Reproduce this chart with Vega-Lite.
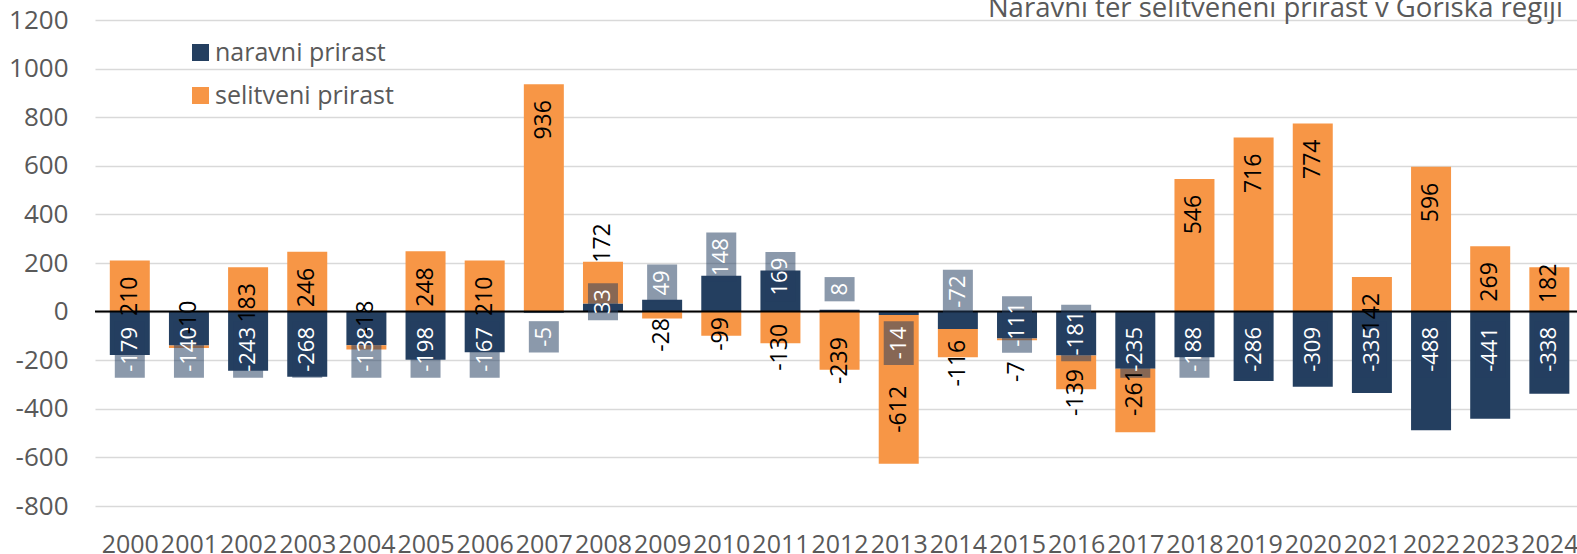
{
  "$schema": "https://vega.github.io/schema/vega-lite/v6.json",
  "width": 1482,
  "height": 486,
  "autosize": {"type": "none"},
  "padding": {"left": 95, "top": 20, "right": 0, "bottom": 48},
  "background": "white",
  "config": {"view": {"stroke": null}, "font": "Open Sans"},
  "title": {
    "text": "Naravni ter selitveneni prirast v Goriška regiji",
    "anchor": "end",
    "frame": "group",
    "orient": "top",
    "fontSize": 27.5,
    "fontWeight": "normal",
    "color": "#595959",
    "font": "Open Sans",
    "offset": -15.5,
    "dx": -14
  },
  "data": {
    "values": [
      {"year": 2000, "series": "naravni prirast", "value": -179},
      {"year": 2001, "series": "naravni prirast", "value": -140},
      {"year": 2002, "series": "naravni prirast", "value": -243},
      {"year": 2003, "series": "naravni prirast", "value": -268},
      {"year": 2004, "series": "naravni prirast", "value": -138},
      {"year": 2005, "series": "naravni prirast", "value": -198},
      {"year": 2006, "series": "naravni prirast", "value": -167},
      {"year": 2007, "series": "naravni prirast", "value": -5},
      {"year": 2008, "series": "naravni prirast", "value": 33},
      {"year": 2009, "series": "naravni prirast", "value": 49},
      {"year": 2010, "series": "naravni prirast", "value": 148},
      {"year": 2011, "series": "naravni prirast", "value": 169},
      {"year": 2012, "series": "naravni prirast", "value": 8},
      {"year": 2013, "series": "naravni prirast", "value": -14},
      {"year": 2014, "series": "naravni prirast", "value": -72},
      {"year": 2015, "series": "naravni prirast", "value": -111},
      {"year": 2016, "series": "naravni prirast", "value": -181},
      {"year": 2017, "series": "naravni prirast", "value": -235},
      {"year": 2018, "series": "naravni prirast", "value": -188},
      {"year": 2019, "series": "naravni prirast", "value": -286},
      {"year": 2020, "series": "naravni prirast", "value": -309},
      {"year": 2021, "series": "naravni prirast", "value": -335},
      {"year": 2022, "series": "naravni prirast", "value": -488},
      {"year": 2023, "series": "naravni prirast", "value": -441},
      {"year": 2024, "series": "naravni prirast", "value": -338},
      {"year": 2000, "series": "selitveni prirast", "value": 210},
      {"year": 2001, "series": "selitveni prirast", "value": -10},
      {"year": 2002, "series": "selitveni prirast", "value": 183},
      {"year": 2003, "series": "selitveni prirast", "value": 246},
      {"year": 2004, "series": "selitveni prirast", "value": -18},
      {"year": 2005, "series": "selitveni prirast", "value": 248},
      {"year": 2006, "series": "selitveni prirast", "value": 210},
      {"year": 2007, "series": "selitveni prirast", "value": 936},
      {"year": 2008, "series": "selitveni prirast", "value": 172},
      {"year": 2009, "series": "selitveni prirast", "value": -28},
      {"year": 2010, "series": "selitveni prirast", "value": -99},
      {"year": 2011, "series": "selitveni prirast", "value": -130},
      {"year": 2012, "series": "selitveni prirast", "value": -239},
      {"year": 2013, "series": "selitveni prirast", "value": -612},
      {"year": 2014, "series": "selitveni prirast", "value": -116},
      {"year": 2015, "series": "selitveni prirast", "value": -7},
      {"year": 2016, "series": "selitveni prirast", "value": -139},
      {"year": 2017, "series": "selitveni prirast", "value": -261},
      {"year": 2018, "series": "selitveni prirast", "value": 546},
      {"year": 2019, "series": "selitveni prirast", "value": 716},
      {"year": 2020, "series": "selitveni prirast", "value": 774},
      {"year": 2021, "series": "selitveni prirast", "value": 142},
      {"year": 2022, "series": "selitveni prirast", "value": 596},
      {"year": 2023, "series": "selitveni prirast", "value": 269},
      {"year": 2024, "series": "selitveni prirast", "value": 182}
    ]
  },
  "transform": [
    {"stack": "value", "groupby": ["year"], "sort": [{"field": "series", "order": "ascending"}], "as": ["v0", "v1"]}
  ],
  "layer": [
    {
      "mark": {"type": "bar", "orient": "vertical", "size": 40},
      "encoding": {
        "x": {
          "field": "year", "type": "quantitative",
          "scale": {"domain": [1999.4962, 2024.3829], "nice": false, "zero": false},
          "axis": {
            "values": [2000,2001,2002,2003,2004,2005,2006,2007,2008,2009,2010,2011,2012,2013,2014,2015,2016,2017,2018,2019,2020,2021,2022,2023,2024],
            "title": null, "domain": false, "ticks": false, "tickSize": 0, "grid": false,
            "labelPadding": 26, "labelFontSize": 25, "labelColor": "#595959", "labelFont": "Open Sans",
            "labelExpr": "'' + datum.value", "labelOverlap": false, "labelFlush": false, "labelBound": false
          }
        },
        "y": {
          "field": "v0", "type": "quantitative",
          "scale": {"domain": [-800, 1200], "nice": false, "zero": false},
          "axis": {
            "values": [-800,-600,-400,-200,0,200,400,600,800,1000,1200],
            "title": null, "domain": false, "ticks": false, "tickSize": 0,
            "grid": true, "gridColor": "#D9D9D9", "gridWidth": 1.5,
            "labelPadding": 27, "labelFontSize": 26, "labelColor": "#595959", "labelFont": "Open Sans",
            "labelExpr": "'' + datum.value"
          }
        },
        "y2": {"field": "v1"},
        "color": {
          "field": "series", "type": "nominal",
          "scale": {"domain": ["naravni prirast", "selitveni prirast"], "range": ["#243F60", "#F79646"]},
          "legend": {
            "orient": "none", "legendX": 93, "legendY": 20, "title": null, "direction": "vertical",
            "labelFontSize": 25, "labelColor": "#595959", "labelFont": "Open Sans", "labelLimit": 400,
            "symbolType": "square", "symbolSize": 289, "symbolStrokeWidth": 0,
            "rowPadding": 17, "labelOffset": 2, "padding": 0
          }
        }
      }
    },
    {
      "data": {"values": [{}]},
      "mark": {"type": "rule", "color": "#000000", "strokeWidth": 2},
      "encoding": {
        "y": {"datum": 0, "type": "quantitative", "scale": {"domain": [-800, 1200], "nice": false, "zero": false}}
      }
    },
    {
      "transform": [
        {"filter": "datum.series == 'naravni prirast'"},
        {"calculate": "'' + datum.value", "as": "lbl"},
        {"calculate": "((datum.value < 0 ? 0.322 : 0) + (length(datum.lbl) - (datum.value < 0 ? 1 : 0)) * 0.572) * 90.5", "as": "a"},
        {"calculate": "datum.year == 2008 ? -11.1 + datum.a/2 : datum.year == 2010 ? 146.5 + datum.a/2 : datum.year == 2014 ? 16 + datum.a/2 : datum.year == 2015 ? 39.5 - datum.a/2 : datum.year == 2016 ? 3.7 - datum.a/2 : datum.value < 0 ? -63.4 - datum.a/2 : 66.3 + datum.a/2", "as": "bc"},
        {"calculate": "datum.bc - datum.a/2 - 24", "as": "b0"},
        {"calculate": "datum.bc + datum.a/2 + 24", "as": "b1"}
      ],
      "encoding": {
        "x": {"field": "year", "type": "quantitative", "scale": {"domain": [1999.4962, 2024.3829], "nice": false, "zero": false}}
      },
      "layer": [
        {
          "mark": {"type": "bar", "orient": "vertical", "size": 30, "color": "#243F60", "opacity": 0.53},
          "encoding": {
            "y": {"field": "b0", "type": "quantitative", "scale": {"domain": [-800, 1200], "nice": false, "zero": false}},
            "y2": {"field": "b1"}
          }
        },
        {
          "mark": {"type": "text", "angle": 270, "align": "center", "baseline": "middle", "fontSize": 22, "color": "#FFFFFF", "font": "Open Sans"},
          "encoding": {
            "y": {"field": "bc", "type": "quantitative", "scale": {"domain": [-800, 1200], "nice": false, "zero": false}},
            "text": {"field": "lbl", "type": "nominal"}
          }
        }
      ]
    },
    {
      "transform": [
        {"filter": "datum.series == 'selitveni prirast'"},
        {"calculate": "'' + datum.value", "as": "lbl"},
        {"calculate": "((datum.value < 0 ? 0.322 : 0) + (length(datum.lbl) - (datum.value < 0 ? 1 : 0)) * 0.572) * 94.6", "as": "a"},
        {"calculate": "datum.year == 2008 ? datum.v1 - 4 + datum.a/2 : datum.year == 2024 ? datum.v1 + 15.2 - datum.a/2 : (datum.year == 2001 || datum.year == 2004) ? -24.3 : datum.year == 2017 ? -333 : datum.year == 2015 ? -247 : datum.year == 2010 ? -92 : datum.value > 0 ? datum.v1 - 65.8 - datum.a/2 : (datum.v0 + datum.v1)/2 - 82.3", "as": "oc"}
      ],
      "mark": {"type": "text", "angle": 270, "align": "center", "baseline": "middle", "fontSize": 23, "color": "#000000", "font": "Open Sans"},
      "encoding": {
        "x": {"field": "year", "type": "quantitative", "scale": {"domain": [1999.4962, 2024.3829], "nice": false, "zero": false}},
        "y": {"field": "oc", "type": "quantitative", "scale": {"domain": [-800, 1200], "nice": false, "zero": false}},
        "text": {"field": "lbl", "type": "nominal"}
      }
    }
  ]
}
